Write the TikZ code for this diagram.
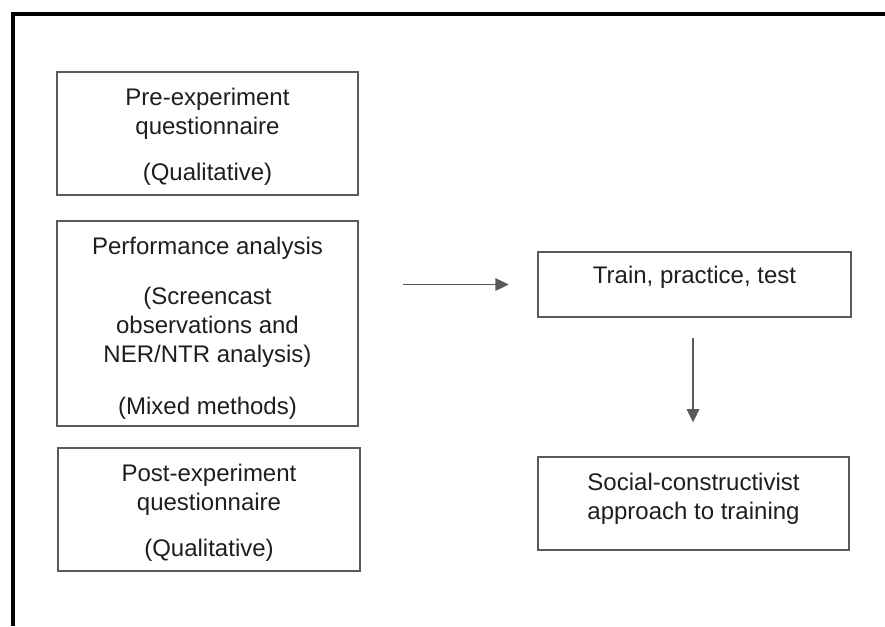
\documentclass[tikz,border=0pt]{standalone}
\usepackage{fontspec}
\setmainfont{Liberation Sans}
\usetikzlibrary{arrows.meta}
\definecolor{boxline}{HTML}{5A5A5A}
\definecolor{ink}{HTML}{1E1E1E}
\begin{document}
\begin{tikzpicture}[x=0.75pt,y=-0.75pt,
  frame/.style={draw=boxline, line width=2pt, inner sep=0pt},
  txt/.style={inner sep=0pt, align=center, text=ink,
    font=\fontsize{18}{21.75}\selectfont},
  arr/.style={draw=boxline, line width=1.1pt,
    -{Triangle[length=10pt,width=9.5pt]}}]
\useasboundingbox (0,0) rectangle (885,626);

% open frame: top and left edges only
\draw[line width=3pt] (885,14) -- (13,14) -- (13,626);

% left column: boxes
\node[frame, minimum width=225.75pt, minimum height=92.25pt] (pre) at (207.5,133.5) {};
\node[frame, minimum width=225.75pt, minimum height=153.75pt] (perf) at (207.5,323.5) {};
\node[frame, minimum width=226.5pt, minimum height=92.25pt] (post) at (209,509.5) {};

% left column: texts
\node[txt] (pre-text) at ([yshift=-2.4pt]pre.center)
  {Pre-experiment\\questionnaire\\[12.5pt](Qualitative)};
\node[txt] (perf-text) at ([yshift=-3.6pt]perf.center)
  {Performance analysis\\[15.75pt](Screencast\\observations and\\NER/NTR analysis)\\[17pt](Mixed methods)};
\node[txt] (post-text) at ([yshift=-2.4pt]post.center)
  {Post-experiment\\questionnaire\\[12.75pt](Qualitative)};

% right column: boxes
\node[frame, minimum width=234.75pt, minimum height=48.75pt] (train) at (694.5,284.5) {};
\node[frame, minimum width=233.25pt, minimum height=69.75pt] (social) at (693.5,503.5) {};

% right column: texts
\node[txt] (train-text) at ([yshift=5.4pt]train.center) {Train, practice, test};
\node[txt] (social-text) at ([yshift=3.4pt]social.center)
  {Social-constructivist\\approach to training};

% connectors
\draw[arr, shorten <=33pt, shorten >=21pt] (perf.east |- train.west) -- (train.west);
\draw[arr, shorten <=15pt, shorten >=25pt] ([xshift=-1.1pt]train.south) -- ([xshift=-1.1pt]train.south |- social.north);
\end{tikzpicture}
\end{document}
